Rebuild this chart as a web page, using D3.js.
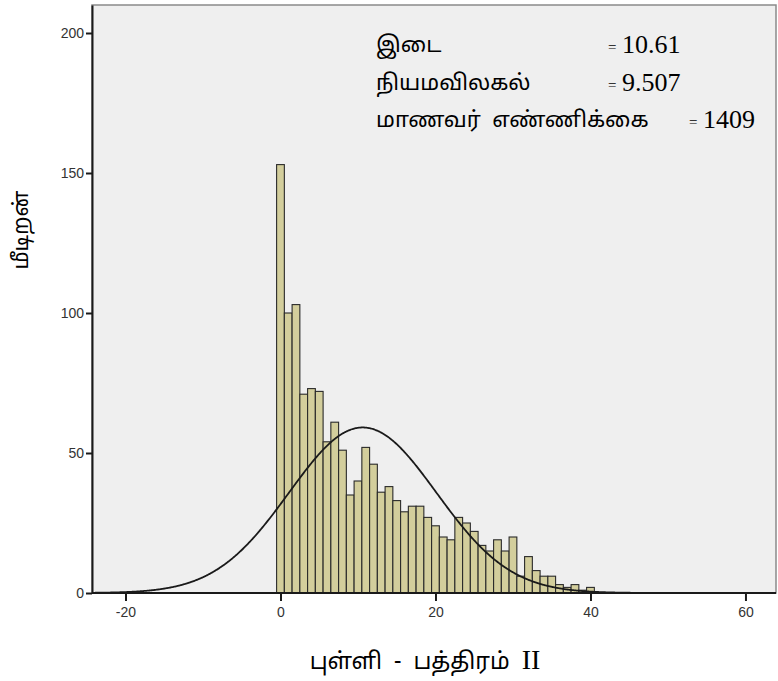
<!DOCTYPE html>
<html><head><meta charset="utf-8">
<script src="https://cdn.jsdelivr.net/npm/d3@7"></script>
<style>
html,body{margin:0;padding:0;background:#fff;}
svg{display:block;}
</style></head>
<body>
<svg id="chart" width="778" height="681"></svg>
<script>
// ---- data ----
const binCenters = [0,1,2,3,4,5,6,7,8,9,10,11,12,13,14,15,16,17,18,19,20,21,22,23,24,25,26,27,28,29,30,31,32,33,34,35,36,37,38,39,40];
const frequencies = [153,100,103,71,73,72,54,61,51,35,40,52,46,36,38,33,29,31,31,27,24,20,19,27,25,22,17,15,19,15,20,6,13,8,6,6,3,2,3,1,2];
const xTicks = [-20,0,20,40,60];
const yTicks = [0,50,100,150,200];
const statLabels = ["இடை","நியமவிலகல்","மாணவர்  எண்ணிக்கை"];
const statValues = ["10.61","9.507","1409"];
const meanVal = 10.61, sdVal = 9.507, nVal = 1409, binWidth = 1;
const xTitle = "புள்ளி  -  பத்திரம்  ";
const xTitleRoman = "II";
const yTitle = "மீடிறன்";

const svg = d3.select("#chart");
const L = 92, R = 776, T = 5, B = 593;
const x = d3.scaleLinear().domain([-24.32, 63.94]).range([L, R]);
const y = d3.scaleLinear().domain([0, 210]).range([B, T]);

const tamilFont = "'Noto Sans Tamil','Latha','Vijaya','Noto Sans',sans-serif";

// plot background
svg.append("rect").attr("x", L).attr("y", T).attr("width", R - L).attr("height", B - T)
  .attr("fill", "#efefef").attr("stroke", "#8a8a8a").attr("stroke-width", 1.5);

// bars
svg.append("g").selectAll("rect").data(binCenters).join("rect")
  .attr("x", (d) => x(d - binWidth / 2))
  .attr("width", (d) => x(d + binWidth / 2) - x(d - binWidth / 2))
  .attr("y", (d, i) => y(frequencies[i]))
  .attr("height", (d, i) => y(0) - y(frequencies[i]))
  .attr("fill", "#d3ce9c").attr("stroke", "#2a2a2a").attr("stroke-width", 1.1);

// normal curve from stated mean / sd / n
const xs = d3.range(-24.3, 63.9, 0.1);
const pdf = (v) => nVal * binWidth / (sdVal * Math.sqrt(2 * Math.PI)) * Math.exp(-((v - meanVal) ** 2) / (2 * sdVal * sdVal));
svg.append("path").datum(xs)
  .attr("d", d3.line().x((d) => x(d)).y((d) => y(pdf(d))).curve(d3.curveBasis))
  .attr("fill", "none").attr("stroke", "#1a1a1a").attr("stroke-width", 1.8);

// axes
const xAxis = svg.append("g").attr("transform", `translate(0,${B})`)
  .call(d3.axisBottom(x).tickValues(xTicks).tickFormat(d => String(d)).tickSize(8).tickPadding(6).tickSizeOuter(0));
const yAxis = svg.append("g").attr("transform", `translate(${L},0)`)
  .call(d3.axisLeft(y).tickValues(yTicks).tickFormat(d => String(d)).tickSize(6).tickPadding(2).tickSizeOuter(0));
[xAxis, yAxis].forEach(g => {
  g.select(".domain").attr("stroke", "#1a1a1a").attr("stroke-width", 2);
  g.selectAll(".tick line").attr("stroke", "#1a1a1a").attr("stroke-width", 2);
  g.selectAll(".tick text").attr("font-family", "'Liberation Sans',Arial,sans-serif")
    .attr("font-size", 14).attr("fill", "#333");
});
xAxis.select(".domain").attr("d", `M${L},0H${R}`);

// axis titles
const xt = svg.append("text").attr("x", 425).attr("y", 669).attr("text-anchor", "middle")
  .attr("font-size", 23).attr("fill", "#000").attr("style", "white-space:pre");
xt.append("tspan").attr("font-family", tamilFont).text(xTitle);
xt.append("tspan").attr("font-family", "'Liberation Serif','Times New Roman',serif").attr("font-size", 28).text(xTitleRoman);

svg.append("text").attr("transform", "translate(28,230) rotate(-90)")
  .attr("text-anchor", "middle").attr("font-family", tamilFont)
  .attr("font-size", 21).attr("fill", "#000").text(yTitle);

// statistics box
const rowsY = [52, 90, 127];
const eqX = [608, 608, 689];
statLabels.forEach((lab, i) => {
  svg.append("text").attr("x", 376).attr("y", rowsY[i]).attr("font-family", tamilFont)
    .attr("font-size", 22).attr("fill", "#000").attr("style", "white-space:pre").text(lab);
  svg.append("text").attr("x", eqX[i]).attr("y", rowsY[i]).attr("font-family", "'Liberation Serif',serif")
    .attr("font-size", 15).attr("fill", "#000").text("=");
  svg.append("text").attr("x", eqX[i] + 14).attr("y", rowsY[i] + 1).attr("font-family", "'Liberation Serif','Times New Roman',serif")
    .attr("font-size", 26).attr("fill", "#000").text(statValues[i]);
});
</script>
</body></html>
